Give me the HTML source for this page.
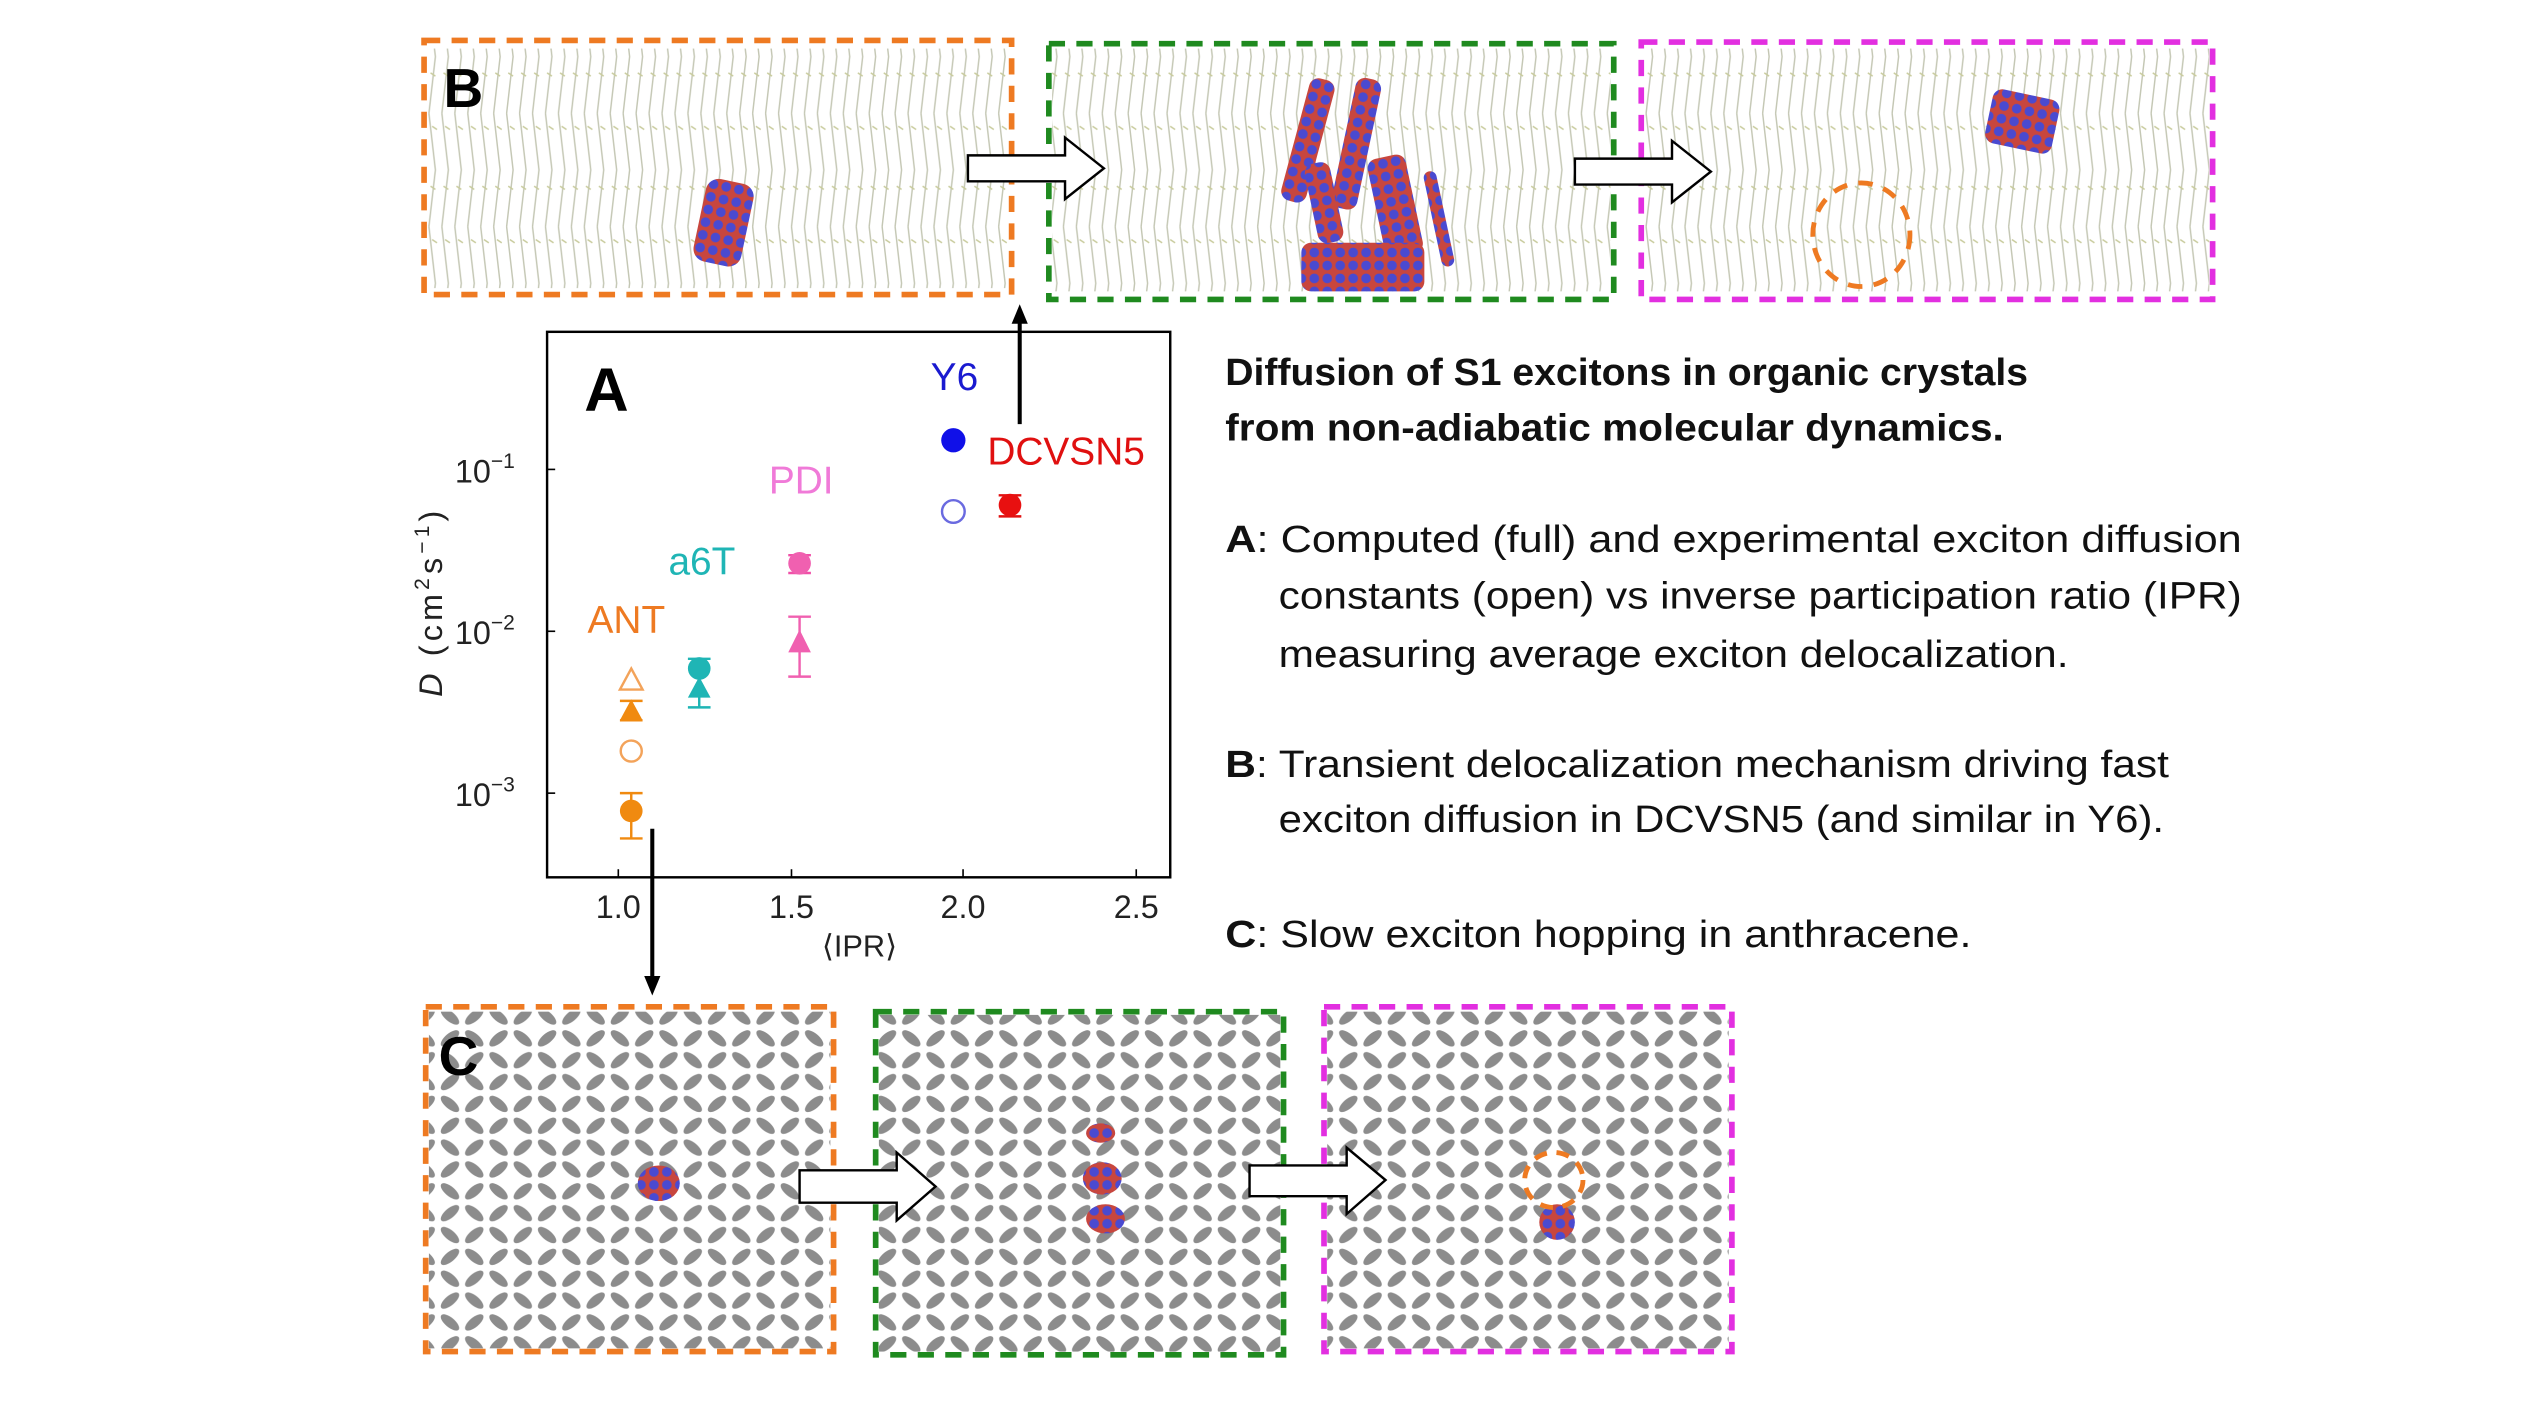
<!DOCTYPE html>
<html><head><meta charset="utf-8"><style>
html,body{margin:0;padding:0;background:#fff}
svg{display:block}
text{font-family:"Liberation Sans","DejaVu Sans",sans-serif}
</style></head><body>
<svg width="2525" height="1422" viewBox="0 0 1560 878.5" preserveAspectRatio="none" xmlns="http://www.w3.org/2000/svg">
<defs>
<pattern id="pb" patternUnits="userSpaceOnUse" width="8" height="70">
<path d="M1,0 L5,35 L1,70" fill="none" stroke="#c4c7b4" stroke-width="0.9"/>
<path d="M3,8 L6,10 M2,45 L5,47" stroke="#c8cb9c" stroke-width="0.9"/>
</pattern>
<pattern id="pc" patternUnits="userSpaceOnUse" width="30" height="27">
<ellipse cx="8" cy="7" rx="7" ry="3" transform="rotate(40 8 7)" fill="#8c8c8c"/>
<ellipse cx="23" cy="7" rx="7" ry="3" transform="rotate(-40 23 7)" fill="#8c8c8c"/>
<ellipse cx="8" cy="20.5" rx="7" ry="3" transform="rotate(-40 8 20.5)" fill="#8c8c8c"/>
<ellipse cx="23" cy="20.5" rx="7" ry="3" transform="rotate(40 23 20.5)" fill="#8c8c8c"/>
</pattern>
<pattern id="mol" patternUnits="userSpaceOnUse" width="8" height="8">
<rect width="8" height="8" fill="#c8463e"/>
<circle cx="4" cy="4" r="3" fill="#4a4ad0"/>
</pattern>
</defs>

<!-- B panels -->
<rect x="264" y="30" width="359" height="148" fill="url(#pb)"/>
<rect x="650" y="30" width="345" height="150" fill="url(#pb)"/>
<rect x="1016" y="30" width="349" height="150" fill="url(#pb)"/>
<rect x="262" y="25" width="363" height="157" fill="none" stroke="#ee7a22" stroke-width="3.5" stroke-dasharray="10,7"/>
<rect x="648" y="27" width="349" height="158" fill="none" stroke="#1f8a1f" stroke-width="3.5" stroke-dasharray="10,7"/>
<rect x="1014" y="26" width="353" height="159" fill="none" stroke="#e22fe0" stroke-width="3.5" stroke-dasharray="10,7"/>
<text x="274" y="66" font-size="34" font-weight="bold">B</text>
<!-- B molecules -->
<rect x="432" y="112" width="30" height="52" rx="8" fill="url(#mol)" transform="rotate(12 449 138)"/>
<rect x="800" y="48" width="16" height="78" rx="6" fill="url(#mol)" transform="rotate(15 809 87)"/>
<rect x="830" y="48" width="16" height="82" rx="6" fill="url(#mol)" transform="rotate(12 839 89)"/>
<rect x="810" y="100" width="16" height="50" rx="6" fill="url(#mol)" transform="rotate(-12 819 125)"/>
<rect x="850" y="96" width="24" height="62" rx="6" fill="url(#mol)" transform="rotate(-12 863 127)"/>
<rect x="804" y="150" width="76" height="30" rx="6" fill="url(#mol)"/>
<rect x="885" y="105" width="8" height="60" rx="4" fill="url(#mol)" transform="rotate(-12 890 135)"/>
<rect x="1228" y="58" width="42" height="34" rx="6" fill="url(#mol)" transform="rotate(12 1249 77)"/>
<ellipse cx="1150" cy="145" rx="30" ry="32" fill="none" stroke="#ee7a22" stroke-width="3" stroke-dasharray="9,7"/>
<!-- B arrows -->
<path d="M598,96 H658 V85 L682,104 L658,123 V112 H598 Z" fill="#fff" stroke="#000" stroke-width="1.5"/>
<path d="M973,98 H1033 V87 L1057,106 L1033,125 V114 H973 Z" fill="#fff" stroke="#000" stroke-width="1.5"/>

<!-- C panels -->
<rect x="265" y="625" width="248" height="208" fill="url(#pc)"/>
<rect x="543" y="627" width="248" height="208" fill="url(#pc)"/>
<rect x="820" y="625" width="248" height="208" fill="url(#pc)"/>
<rect x="263" y="622" width="252" height="213" fill="none" stroke="#ee7a22" stroke-width="3.5" stroke-dasharray="10,7"/>
<rect x="541" y="625" width="252" height="212" fill="none" stroke="#1f8a1f" stroke-width="3.5" stroke-dasharray="10,7"/>
<rect x="818" y="622" width="252" height="213" fill="none" stroke="#e22fe0" stroke-width="3.5" stroke-dasharray="10,7"/>
<text x="271" y="664" font-size="34" font-weight="bold">C</text>
<ellipse cx="407" cy="731" rx="13" ry="11" fill="url(#mol)"/>
<ellipse cx="680" cy="700" rx="9" ry="6" fill="url(#mol)"/>
<ellipse cx="681" cy="728" rx="12" ry="10" fill="url(#mol)"/>
<ellipse cx="683" cy="753" rx="12" ry="9" fill="url(#mol)"/>
<ellipse cx="962" cy="755" rx="11" ry="11" fill="url(#mol)"/>
<ellipse cx="960" cy="729" rx="18" ry="17" fill="none" stroke="#ee7a22" stroke-width="3" stroke-dasharray="8,6"/>
<path d="M494,723 H554 V712 L578,733 L554,754 V743 H494 Z" fill="#fff" stroke="#000" stroke-width="1.5"/>
<path d="M772,720 H832 V709 L856,729 L832,750 V739 H772 Z" fill="#fff" stroke="#000" stroke-width="1.5"/>

<!-- Plot A -->
<rect x="338" y="205" width="385" height="337" fill="#fff" stroke="#000" stroke-width="1.5"/>
<g stroke="#000" stroke-width="1">
<line x1="338" y1="290" x2="343" y2="290"/><line x1="338" y1="390" x2="343" y2="390"/><line x1="338" y1="490" x2="343" y2="490"/>
<line x1="382" y1="542" x2="382" y2="537"/><line x1="489" y1="542" x2="489" y2="537"/><line x1="595" y1="542" x2="595" y2="537"/><line x1="702" y1="542" x2="702" y2="537"/>
</g>
<g font-size="20" fill="#222">
<text x="281" y="298">10<tspan font-size="13" dy="-9">−1</tspan></text>
<text x="281" y="398">10<tspan font-size="13" dy="-9">−2</tspan></text>
<text x="281" y="498">10<tspan font-size="13" dy="-9">−3</tspan></text>
<text x="382" y="567" text-anchor="middle">1.0</text>
<text x="489" y="567" text-anchor="middle">1.5</text>
<text x="595" y="567" text-anchor="middle">2.0</text>
<text x="702" y="567" text-anchor="middle">2.5</text>
<text x="531" y="591" text-anchor="middle" font-size="19">⟨IPR⟩</text>
<text transform="translate(273,373) rotate(-90)" text-anchor="middle" font-size="20" textLength="115" lengthAdjust="spacing"><tspan font-style="italic">D</tspan> (cm<tspan font-size="13" dy="-8">2</tspan><tspan dy="8">s</tspan><tspan font-size="13" dy="-8">−1</tspan><tspan dy="8">)</tspan></text>
</g>
<text x="361" y="254" font-size="38" font-weight="bold">A</text>
<text x="575" y="241" font-size="24" fill="#1a1ad0">Y6</text>
<text x="610" y="287" font-size="24" fill="#e01010">DCVSN5</text>
<text x="475" y="305" font-size="24" fill="#f07ad8">PDI</text>
<text x="413" y="355" font-size="24" fill="#1fb5b5">a6T</text>
<text x="363" y="391" font-size="24" fill="#ee7a22">ANT</text>
<!-- data -->
<g stroke-width="1.5">
<path d="M390,413 L397,426 L383,426 Z" fill="none" stroke="#f3a35a"/>
<path d="M390,432 L397,445 L383,445 Z" fill="#f08a10"/>
<path d="M383,433 H397 M383,445 H397" stroke="#f08a10"/>
<circle cx="390" cy="464" r="6.5" fill="none" stroke="#f3a35a"/>
<path d="M390,490 V518 M383,490 H397 M383,518 H397" stroke="#f08a10"/>
<circle cx="390" cy="501" r="7" fill="#f08a10"/>
<path d="M432,407 V437 M425,407 H439 M425,437 H439" stroke="#1fb5b5"/>
<circle cx="432" cy="413" r="7" fill="#1fb5b5"/>
<path d="M432,418 L439,431 L425,431 Z" fill="#1fb5b5"/>
<path d="M494,343 V354 M487,343 H501 M487,354 H501" stroke="#f050a8"/>
<circle cx="494" cy="348" r="7" fill="#f060b0"/>
<path d="M494,381 V418 M487,381 H501 M487,418 H501" stroke="#f060b0"/>
<path d="M494,389 L501,403 L487,403 Z" fill="#f060b0"/>
<circle cx="589" cy="272" r="7.5" fill="#1010e8"/>
<circle cx="589" cy="316" r="7" fill="none" stroke="#6a6ae0"/>
<path d="M624,306 V319 M617,306 H631 M617,319 H631" stroke="#e01010"/>
<circle cx="624" cy="312" r="7" fill="#e81010"/>
</g>
<!-- connecting arrows -->
<line x1="630" y1="262" x2="630" y2="197" stroke="#000" stroke-width="2.5"/>
<path d="M630,188 L625,200 L635,200 Z" fill="#000"/>
<line x1="403" y1="512" x2="403" y2="606" stroke="#000" stroke-width="2.5"/>
<path d="M403,615 L398,603 L408,603 Z" fill="#000"/>

<!-- text block -->
<g font-size="23.5" fill="#111">
<text x="757" y="238" font-weight="bold" textLength="496" lengthAdjust="spacingAndGlyphs">Diffusion of S1 excitons in organic crystals</text>
<text x="757" y="272" font-weight="bold" textLength="481" lengthAdjust="spacingAndGlyphs">from non-adiabatic molecular dynamics.</text>
<text x="757" y="341" textLength="628" lengthAdjust="spacingAndGlyphs"><tspan font-weight="bold">A</tspan>: Computed (full) and experimental exciton diffusion</text>
<text x="790" y="376" textLength="595" lengthAdjust="spacingAndGlyphs">constants (open) vs inverse participation ratio (IPR)</text>
<text x="790" y="412" textLength="488" lengthAdjust="spacingAndGlyphs">measuring average exciton delocalization.</text>
<text x="757" y="480" textLength="583" lengthAdjust="spacingAndGlyphs"><tspan font-weight="bold">B</tspan>: Transient delocalization mechanism driving fast</text>
<text x="790" y="514" textLength="547" lengthAdjust="spacingAndGlyphs">exciton diffusion in DCVSN5 (and similar in Y6).</text>
<text x="757" y="585" textLength="461" lengthAdjust="spacingAndGlyphs"><tspan font-weight="bold">C</tspan>:  Slow exciton hopping in anthracene.</text>
</g>
</svg>
</body></html>
